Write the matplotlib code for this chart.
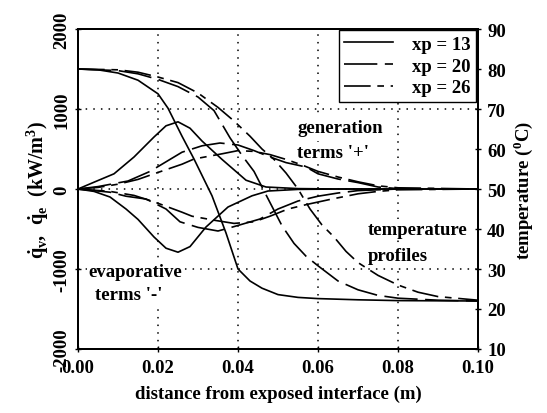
import numpy as np
import matplotlib
matplotlib.use("Agg")
import matplotlib.pyplot as plt

plt.rcParams['font.family'] = ['Liberation Serif', 'DejaVu Serif']
plt.rcParams['font.weight'] = 'bold'
plt.rcParams['axes.labelweight'] = 'bold'
plt.rcParams['axes.unicode_minus'] = False
plt.rcParams['mathtext.fontset'] = 'custom'
plt.rcParams['mathtext.rm'] = 'Liberation Serif:bold'
plt.rcParams['mathtext.bf'] = 'Liberation Serif:bold'

# temperature profiles (deg C, right axis)
x_t13 = [0, 0.005, 0.01, 0.015, 0.02, 0.0225, 0.026, 0.029, 0.0335, 0.037, 0.04, 0.043, 0.046, 0.05, 0.055, 0.06, 0.07, 0.08, 0.1]
t13 = [80.0, 79.8, 79.0, 77.2, 73.8, 70.2, 63.2, 57.5, 48.3, 39.0, 30.0, 27.0, 25.2, 23.6, 22.9, 22.6, 22.3, 22.1, 22.0]
x_t20 = [0, 0.01, 0.015, 0.02, 0.025, 0.03, 0.034, 0.038, 0.041, 0.044, 0.046, 0.048, 0.051, 0.054, 0.057, 0.06, 0.065, 0.07, 0.075, 0.08, 0.09, 0.1]
t20 = [80.0, 79.6, 78.8, 77.4, 75.6, 73.0, 69.6, 62.8, 58.4, 54.4, 50.5, 46.6, 40.8, 36.4, 33.2, 30.8, 27.0, 24.8, 23.4, 22.7, 22.2, 22.0]
x_t26 = [0, 0.01, 0.015, 0.02, 0.025, 0.03, 0.035, 0.039, 0.043, 0.046, 0.049, 0.052, 0.055, 0.058, 0.061, 0.064, 0.067, 0.07, 0.075, 0.08, 0.085, 0.09, 0.1]
t26 = [80.0, 79.8, 79.2, 78.0, 76.6, 74.0, 70.4, 67.0, 63.2, 60.0, 57.4, 54.0, 50.0, 45.0, 41.0, 38.0, 34.4, 31.6, 28.4, 26.0, 24.2, 23.1, 22.2]

# generation terms '+' (kW/m3)
x_g13 = [0, 0.004, 0.009, 0.014, 0.019, 0.022, 0.025, 0.028, 0.031, 0.036, 0.042, 0.047, 0.055, 0.065, 0.1]
g13 = [0, 85, 190, 400, 650, 790, 840, 760, 600, 370, 110, 25, 5, 0, 0]
x_g20 = [0, 0.005, 0.0125, 0.018, 0.022, 0.026, 0.031, 0.0355, 0.04, 0.044, 0.048, 0.052, 0.057, 0.06, 0.065, 0.07, 0.075, 0.08, 0.1]
g20 = [0, 30, 100, 220, 340, 460, 540, 575, 550, 480, 400, 330, 275, 190, 125, 80, 25, 5, 0]
x_g26 = [0, 0.005, 0.01, 0.015, 0.019, 0.026, 0.029, 0.036, 0.04, 0.044, 0.048, 0.052, 0.056, 0.06, 0.065, 0.07, 0.075, 0.08, 0.1]
g26 = [0, 20, 60, 120, 190, 310, 375, 440, 480, 470, 430, 370, 300, 220, 150, 90, 40, 15, 0]

# evaporative terms '-' (kW/m3)
x_e13 = [0, 0.004, 0.008, 0.012, 0.015, 0.019, 0.022, 0.025, 0.028, 0.032, 0.0375, 0.0435, 0.0475, 0.055, 0.065, 0.1]
e13 = [0, -30, -100, -250, -380, -600, -740, -790, -720, -475, -225, -85, -25, -5, 0, 0]
x_e20 = [0, 0.008, 0.012, 0.017, 0.022, 0.0255, 0.03, 0.035, 0.039, 0.0455, 0.05, 0.055, 0.06, 0.065, 0.07, 0.08, 0.1]
e20 = [0, -40, -90, -125, -250, -410, -480, -525, -470, -375, -250, -150, -90, -50, -20, 0, 0]
x_e26 = [0, 0.008, 0.014, 0.019, 0.026, 0.0285, 0.034, 0.039, 0.044, 0.048, 0.0525, 0.0575, 0.0635, 0.07, 0.075, 0.08, 0.1]
e26 = [0, -30, -80, -160, -290, -340, -390, -430, -410, -340, -250, -190, -125, -60, -30, -10, 0]

labels = ['xp = 13', 'xp = 20', 'xp = 26']

lw = 1.2
d20 = (20, 4.5)
d26 = (16, 4, 4, 4)

fig = plt.figure(figsize=(5.47, 4.14), dpi=100)
ax = fig.add_axes([0.1426, 0.1546, 0.7313, 0.7729])
ax2 = ax.twinx()

ax.plot(x_g13, g13, color='k', lw=lw)
ax.plot(x_e13, e13, color='k', lw=lw)
ax.plot(x_g20, g20, color='k', lw=lw, dashes=d20)
ax.plot(x_e20, e20, color='k', lw=lw, dashes=d20)
ax.plot(x_g26, g26, color='k', lw=lw, dashes=d26)
ax.plot(x_e26, e26, color='k', lw=lw, dashes=d26)

l13, = ax2.plot(x_t13, t13, color='k', lw=lw, label=labels[0])
l20, = ax2.plot(x_t20, t20, color='k', lw=lw, dashes=d20, label=labels[1])
l26, = ax2.plot(x_t26, t26, color='k', lw=lw, dashes=d26, label=labels[2])

ax.set_xlim(0, 0.1)
ax.set_ylim(-2000, 2000)
ax2.set_ylim(10, 90)
ax.set_xticks(np.arange(0, 0.101, 0.02))
ax.set_xticklabels(['0.00', '0.02', '0.04', '0.06', '0.08', '0.10'])
ax.set_yticks([-2000, -1000, 0, 1000, 2000])
ax2.set_yticks(range(10, 91, 10))

for a in (ax, ax2):
    a.tick_params(direction='inout', length=5, width=1, labelsize=13.5)
    for s in a.spines.values():
        s.set_linewidth(1.4)
ax.tick_params(axis='y', labelrotation=90, pad=3)
for t in ax.get_yticklabels():
    t.set_va('center')
ax.tick_params(axis='x', pad=5)
ax2.tick_params(axis='y', pad=4)

for xv in [0.02, 0.04, 0.06, 0.08]:
    ax.axvline(xv, color='k', lw=1.1, ls=(0, (1, 4)), zorder=0)
for yv in [-1000, 0, 1000]:
    ax.axhline(yv, color='k', lw=1.1, ls=(0, (1, 4)), zorder=0)

ax.set_xlabel('distance from exposed interface (m)', fontsize=13.5, labelpad=6)
ax.set_ylabel(r'$\dot{\mathbf{q}}_{\mathbf{v}}$,  $\dot{\mathbf{q}}_{\mathbf{e}}$  (kW/m$^{\mathbf{3}}$)',
              fontsize=14.5, labelpad=2)
ax2.set_ylabel(r'temperature ($^{\mathbf{0}}$C)', fontsize=13.5, labelpad=4)

bb = dict(facecolor='white', edgecolor='none', pad=1)
ax.text(0.0548, 775, 'generation', fontsize=13.5, va='center', ha='left', bbox=bb)
ax.text(0.0548, 460, "terms '+'", fontsize=13.5, va='center', ha='left', bbox=bb)
ax.text(0.0725, -500, 'temperature', fontsize=13.5, va='center', ha='left', bbox=bb)
ax.text(0.0725, -825, 'profiles', fontsize=13.5, va='center', ha='left', bbox=bb)
ax.text(0.0025, -1025, 'evaporative', fontsize=13.5, va='center', ha='left', bbox=bb)
ax.text(0.0043, -1325, "terms '-'", fontsize=13.5, va='center', ha='left', bbox=bb)

leg = ax2.legend(handles=[l13, l20, l26], loc='upper right', bbox_to_anchor=(0.995, 0.997),
                 borderaxespad=0, fancybox=False, framealpha=1, edgecolor='k',
                 fontsize=13.5, handlelength=2.6, labelspacing=0.25, borderpad=0.3,
                 handletextpad=1.0)
leg.get_frame().set_linewidth(1.0)

fig.savefig('out.png', dpi=100)
